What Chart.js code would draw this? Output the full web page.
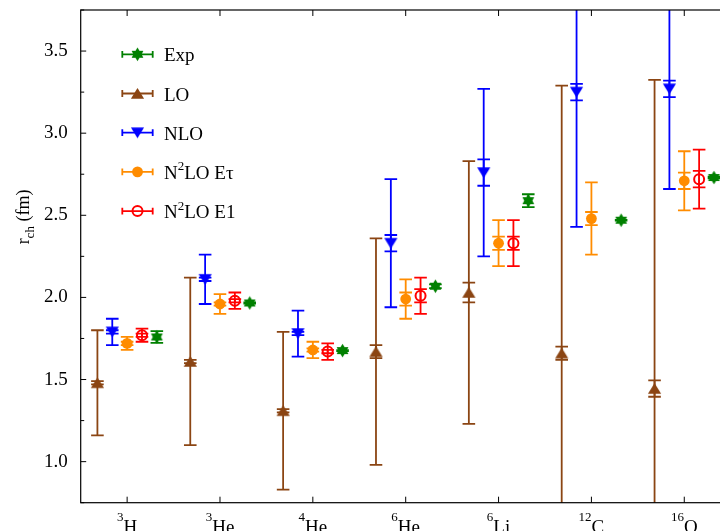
<!DOCTYPE html>
<html>
<head>
<meta charset="utf-8">
<script src="https://cdn.jsdelivr.net/npm/chart.js@4.4.0/dist/chart.umd.min.js"></script>
<style>
  html, body { margin: 0; padding: 0; background: #fff; overflow: hidden; }
  #wrap { width: 720px; height: 531px; overflow: hidden; }
  canvas { display: block; }
</style>
</head>
<body>
<div id="wrap"><canvas id="radii" width="740" height="531"></canvas></div>
<script>
// ---------------------------------------------------------
// data (charge radii, fm)
// ---------------------------------------------------------
const massNumbers = ['3', '3', '4', '6', '6', '12', '16'];
const elements    = ['H', 'He', 'He', 'He', 'Li', 'C', 'O'];

const expValues = [1.759, 1.966, 1.676, 2.068, 2.589, 2.470, 2.73];
const expErr    = [0.036, 0.003, 0.003, 0.011, 0.039, 0.002, 0.005];

const loValues   = [1.48, 1.61, 1.31, 1.67, 2.03, 1.66, 1.445];
const loTotalErr = [0.32, 0.51, 0.48, 0.69, 0.80, 1.63, 1.88];
const loStatErr  = [0.01, 0.01, 0.01, 0.04, 0.06, 0.04, 0.05];

const nloValues   = [1.79, 2.11, 1.78, 2.33, 2.76, 3.25, 3.27];
const nloTotalErr = [0.08, 0.15, 0.14, 0.39, 0.51, 0.82, 0.61];
const nloStatErr  = [0.01, 0.01, 0.01, 0.05, 0.08, 0.05, 0.05];

const eTauValues   = [1.72, 1.96, 1.68, 1.99, 2.33, 2.48, 2.71];
const eTauTotalErr = [0.04, 0.06, 0.05, 0.12, 0.14, 0.22, 0.18];
const eTauStatErr  = [0.01, 0.01, 0.01, 0.04, 0.04, 0.04, 0.05];

// no E1 result for 12C
const e1Values   = [1.77, 1.98, 1.67, 2.01, 2.33, null, 2.72];
const e1TotalErr = [0.04, 0.05, 0.05, 0.11, 0.14, null, 0.18];
const e1StatErr  = [0.01, 0.01, 0.01, 0.04, 0.04, null, 0.05];

const yTicksMajor = [1.0, 1.5, 2.0, 2.5, 3.0, 3.5];

// ---------------------------------------------------------
// series table (legend order)
// ---------------------------------------------------------
const FONT = "'Liberation Serif', 'DejaVu Serif', serif";

const SERIES = [
  { label: 'Exp',      values: expValues,  total: expErr,       stat: null,        dx:  0.32, color: 'rgb(0,128,0)',   marker: 'hex'  },
  { label: 'LO',       values: loValues,   total: loTotalErr,   stat: loStatErr,   dx: -0.32, color: 'rgb(139,69,19)', marker: 'up'   },
  { label: 'NLO',      values: nloValues,  total: nloTotalErr,  stat: nloStatErr,  dx: -0.16, color: 'rgb(0,0,255)',   marker: 'down' },
  { label: 'N^2LO Eτ', values: eTauValues, total: eTauTotalErr, stat: eTauStatErr, dx:  0,    color: 'rgb(255,140,0)', marker: 'dot'  },
  { label: 'N^2LO E1', values: e1Values,   total: e1TotalErr,   stat: e1StatErr,   dx:  0.16, color: 'rgb(255,0,0)',   marker: 'ring' },
];

// small canvases used as point styles
function makeMarker(kind, color) {
  const c = document.createElement('canvas');
  c.width = 15; c.height = 15;
  const g = c.getContext('2d');
  const cx = 7.5, cy = 7.5;
  g.fillStyle = color;
  g.beginPath();
  if (kind === 'up') {
    g.moveTo(cx, cy - 5.5); g.lineTo(cx + 6.6, cy + 5.2); g.lineTo(cx - 6.6, cy + 5.2);
  } else if (kind === 'down') {
    g.moveTo(cx, cy + 5.5); g.lineTo(cx + 6.6, cy - 5.2); g.lineTo(cx - 6.6, cy - 5.2);
  } else {
    // six-pointed star
    for (let k = 0; k < 12; k++) {
      const r = k % 2 === 0 ? 6.8 : 4.1;
      const a = -Math.PI / 2 + k * Math.PI / 6;
      const px = cx + r * Math.cos(a), py = cy + r * Math.sin(a);
      if (k === 0) g.moveTo(px, py); else g.lineTo(px, py);
    }
  }
  g.closePath();
  g.fill();
  return c;
}

function pointStyleFor(s) {
  if (s.marker === 'dot') return { pointStyle: 'circle', pointRadius: 5.4, backgroundColor: s.color, borderColor: s.color, borderWidth: 0 };
  if (s.marker === 'ring') return { pointStyle: 'circle', pointRadius: 5.0, backgroundColor: 'rgba(0,0,0,0)', borderColor: s.color, borderWidth: 2 };
  return { pointStyle: makeMarker(s.marker, s.color), pointRadius: 6, backgroundColor: s.color, borderColor: s.color, borderWidth: 0 };
}

const datasets = SERIES.map(s => {
  const pts = [];
  s.values.forEach((v, i) => {
    if (v === null) return;
    pts.push({ x: i + s.dx, y: v, err: s.total[i], stat: s.stat ? s.stat[i] : 0 });
  });
  return Object.assign({ label: s.label, data: pts, showLine: false }, pointStyleFor(s));
});

// ---------------------------------------------------------
// text helper: "^x" superscript, "_{..}" subscript
// ---------------------------------------------------------
function parseRich(text) {
  const parts = [];
  let i = 0, buf = '';
  while (i < text.length) {
    const ch = text[i];
    if (ch === '^' || ch === '_') {
      if (buf) { parts.push({ t: buf, k: '' }); buf = ''; }
      let t;
      if (text[i + 1] === '{') {
        const end = text.indexOf('}', i);
        t = text.slice(i + 2, end); i = end + 1;
      } else { t = text[i + 1]; i += 2; }
      parts.push({ t, k: ch === '^' ? 'sup' : 'sub' });
    } else { buf += ch; i++; }
  }
  if (buf) parts.push({ t: buf, k: '' });
  return parts;
}

function drawRich(ctx, text, x, y, opt) {
  const parts = parseRich(text);
  const fontFor = p => (p.k ? opt.small : opt.size) + 'px ' + FONT;
  let w = 0;
  parts.forEach(p => { ctx.font = fontFor(p); p.w = ctx.measureText(p.t).width; w += p.w; });
  let cx = opt.align === 'center' ? x - w / 2 : x;
  ctx.textAlign = 'left';
  ctx.textBaseline = 'alphabetic';
  parts.forEach(p => {
    ctx.font = fontFor(p);
    const dy = p.k === 'sup' ? -opt.raise : (p.k === 'sub' ? opt.lower : 0);
    ctx.fillText(p.t, cx, y + dy);
    cx += p.w;
  });
}

// ---------------------------------------------------------
// plugins
// ---------------------------------------------------------
const CAP = 6.3;

function errorBar(ctx, x, y0, y1, half) {
  ctx.beginPath();
  ctx.moveTo(x, y0); ctx.lineTo(x, y1);
  ctx.moveTo(x - half, y0); ctx.lineTo(x + half, y0);
  ctx.moveTo(x - half, y1); ctx.lineTo(x + half, y1);
  ctx.stroke();
}

const errorBars = {
  id: 'errorBars',
  beforeDatasetsDraw(chart) {
    const { ctx, chartArea: a, scales: { y } } = chart;
    ctx.save();
    ctx.beginPath();
    ctx.rect(a.left, a.top, a.right - a.left, a.bottom - a.top);
    ctx.clip();
    ctx.lineWidth = 1.8;
    chart.data.datasets.forEach((ds, di) => {
      const meta = chart.getDatasetMeta(di);
      ctx.strokeStyle = SERIES[di].color;
      meta.data.forEach((el, i) => {
        const d = ds.data[i];
        [d.err, d.stat].forEach(e => {
          if (!e) return;
          errorBar(ctx, el.x, y.getPixelForValue(d.y + e), y.getPixelForValue(d.y - e), CAP);
        });
      });
    });
    ctx.restore();
  }
};

const frameAndLabels = {
  id: 'frameAndLabels',
  afterDraw(chart) {
    const { ctx, chartArea: a, scales: { x, y } } = chart;
    ctx.save();

    // frame
    ctx.strokeStyle = '#000';
    ctx.lineWidth = 1.2;
    ctx.strokeRect(a.left, a.top, a.right - a.left, a.bottom - a.top);

    // inward ticks
    ctx.lineWidth = 1;
    ctx.beginPath();
    y.ticks.forEach(t => {
      const py = y.getPixelForValue(t.value);
      const len = yTicksMajor.includes(t.value) ? 5.5 : 3.5;
      ctx.moveTo(a.left, py); ctx.lineTo(a.left + len, py);
      ctx.moveTo(a.right, py); ctx.lineTo(a.right - len, py);
    });
    massNumbers.forEach((_, i) => {
      const px = x.getPixelForValue(i);
      ctx.moveTo(px, a.bottom); ctx.lineTo(px, a.bottom - 6);
      ctx.moveTo(px, a.top); ctx.lineTo(px, a.top + 6);
    });
    ctx.stroke();

    // x tick labels (nuclei)
    ctx.fillStyle = '#000';
    massNumbers.forEach((m, i) => {
      const px = x.getPixelForValue(i);
      drawRich(ctx, '^{' + m + '}' + elements[i], px, a.bottom + 30.5, { size: 19, small: 13, raise: 12.5, align: 'center' });
    });

    // y axis title
    ctx.save();
    ctx.translate(29, 217);
    ctx.rotate(-Math.PI / 2);
    drawRich(ctx, 'r_{ch} (fm)', 0, 0, { size: 18, small: 13, lower: 5, align: 'center' });
    ctx.restore();

    // legend
    const lx0 = 122.3, lx1 = 152.7, lm = (lx0 + lx1) / 2;
    SERIES.forEach((s, k) => {
      const ry = 54.3 + k * 39.2;
      ctx.strokeStyle = s.color;
      ctx.lineWidth = 1.8;
      ctx.beginPath();
      ctx.moveTo(lx0, ry); ctx.lineTo(lx1, ry);
      ctx.moveTo(lx0, ry - 3.4); ctx.lineTo(lx0, ry + 3.4);
      ctx.moveTo(lx1, ry - 3.4); ctx.lineTo(lx1, ry + 3.4);
      ctx.stroke();
      const ps = datasets[k];
      ctx.fillStyle = ps.backgroundColor;
      ctx.strokeStyle = ps.borderColor;
      ctx.lineWidth = ps.borderWidth;
      if (ps.pointStyle === 'circle') {
        ctx.beginPath();
        ctx.arc(lm, ry, ps.pointRadius, 0, Math.PI * 2);
        ctx.fill();
        if (ps.borderWidth) ctx.stroke();
      } else {
        ctx.drawImage(ps.pointStyle, lm - 7.5, ry - 7.5);
      }
      ctx.fillStyle = '#000';
      drawRich(ctx, s.label, 164, ry + 7, { size: 19, small: 13, raise: 8.5, align: 'left' });
    });

    ctx.restore();
  }
};

// ---------------------------------------------------------
// chart
// ---------------------------------------------------------
function noPad(s) {
  s.paddingTop = 0; s.paddingBottom = 0; s.paddingLeft = 0; s.paddingRight = 0;
}

new Chart(document.getElementById('radii').getContext('2d'), {
  type: 'scatter',
  data: { datasets },
  options: {
    responsive: false,
    animation: false,
    devicePixelRatio: 1,
    layout: { padding: { top: 10, right: 9.3, left: 0, bottom: 0 } },
    plugins: { legend: { display: false }, tooltip: { enabled: false } },
    scales: {
      x: {
        type: 'linear',
        min: -0.5,
        max: 6.5,
        grid: { display: false, drawTicks: false },
        border: { display: false },
        ticks: { display: false },
        afterBuildTicks: s => { s.ticks = massNumbers.map((_, i) => ({ value: i })); },
        afterFit: s => { s.height = 28.3; noPad(s); }
      },
      y: {
        type: 'linear',
        min: 0.75,
        max: 3.75,
        grid: { display: false, drawTicks: false },
        border: { display: false },
        ticks: {
          stepSize: 0.25,
          padding: 13,
          color: '#000',
          font: { family: FONT, size: 19 },
          callback: v => (yTicksMajor.includes(v) ? v.toFixed(1) : '')
        },
        afterFit: s => { s.width = 80.7; noPad(s); }
      }
    }
  },
  plugins: [errorBars, frameAndLabels]
});
</script>
</body>
</html>
